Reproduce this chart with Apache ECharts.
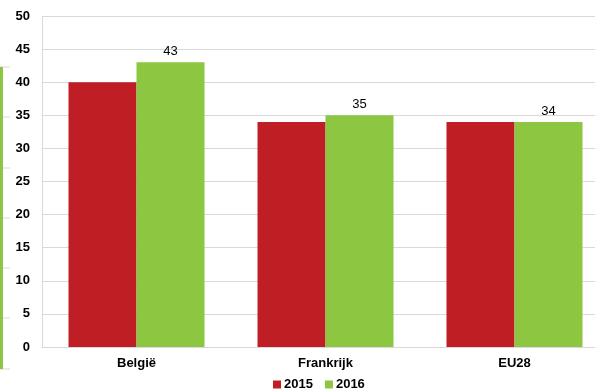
<!DOCTYPE html>
<html>
<head>
<meta charset="utf-8">
<script src="https://cdn.jsdelivr.net/npm/echarts@6/dist/echarts.min.js"></script>
<style>
  html, body { margin: 0; padding: 0; background: #fff; }
  #chart { width: 595px; height: 391px; }
</style>
</head>
<body>
<div id="chart"></div>
<script>
// chart data
var categories = ['België', 'Frankrijk', 'EU28'];
var seriesNames = ['2015', '2016'];
var values2015 = [40, 34, 34];
var values2016 = [43, 35, 34];
var yTicks = { min: 0, max: 50, interval: 5 };

var chart = echarts.init(document.getElementById('chart'), null, { renderer: 'canvas' });

// the cut-off strip of a neighbouring chart on the left edge
var edgeLines = [];
[67, 117, 168, 218, 268, 318, 369].forEach(function (y) {
	edgeLines.push({
		type: 'line',
		shape: { x1: 0, y1: y, x2: 10, y2: y },
		style: { stroke: '#d9d9d9', lineWidth: 1 },
		silent: true
	});
});
edgeLines.push({
	type: 'rect',
	shape: { x: 0, y: 67, width: 3, height: 302 },
	style: { fill: '#8dc641' },
	silent: true
});

var option = {
	animation: false,
	textStyle: { fontFamily: 'Liberation Sans, Arial, sans-serif' },
	grid: { left: 42, top: 16, right: -14, bottom: 44, containLabel: false, outerBoundsMode: 'none' },
	legend: {
		data: seriesNames,
		left: 268,
		bottom: -5,
		itemWidth: 8,
		itemHeight: 8,
		itemGap: 12,
		icon: 'rect',
		textStyle: { fontSize: 13, fontWeight: 'bold', color: '#000', padding: [0, 0, 0, -2] }
	},
	xAxis: {
		type: 'category',
		data: categories,
		axisLine: { lineStyle: { color: '#d9d9d9', width: 1 } },
		axisTick: { show: false },
		axisLabel: { fontSize: 13, fontWeight: 'bold', color: '#000', margin: 10 }
	},
	yAxis: {
		type: 'value',
		min: yTicks.min,
		max: yTicks.max,
		interval: yTicks.interval,
		axisLine: { show: true, lineStyle: { color: '#d9d9d9' } },
		axisTick: { show: false },
		splitLine: { lineStyle: { color: '#d9d9d9', width: 1 } },
		axisLabel: { fontSize: 13, fontWeight: 'bold', color: '#000', margin: 12 }
	},
	series: [{
		type: 'bar',
		name: seriesNames[0],
		data: values2015,
		barWidth: 68,
		barGap: '0%',
		itemStyle: { color: '#be1e24' }
	},
	{
		type: 'bar',
		name: seriesNames[1],
		data: values2016,
		barWidth: 68,
		barGap: '0%',
		itemStyle: { color: '#8dc641' },
		label: { show: true, position: 'top', fontSize: 13, color: '#000', distance: 4 }
	}],
	graphic: edgeLines
};
chart.setOption(option);
</script>
</body>
</html>
